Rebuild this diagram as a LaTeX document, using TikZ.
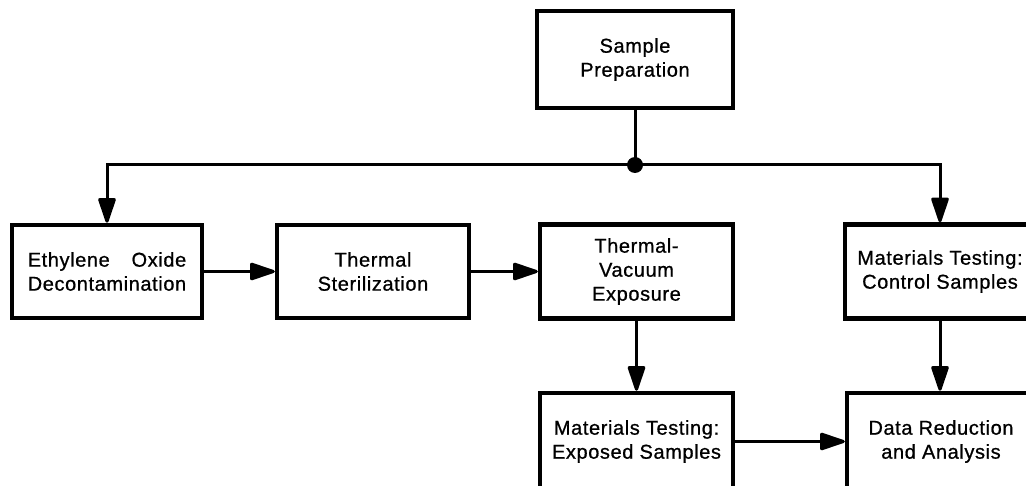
\documentclass[tikz,border=0pt]{standalone}
\usepackage{fontspec}
\usepackage{calc}
\setmainfont{Liberation Sans}[FakeBold=0.8,LetterSpace=3]
\usetikzlibrary{arrows.meta}
\tikzset{
  box/.style={draw=black, line width=4.5pt, fill=white, align=center,
    inner sep=0pt, font=\fontsize{20}{24}\selectfont},
  conn/.style={draw=black, line width=3pt},
  tip/.style={-{Triangle[length=28pt,width=18pt,round]}}
}
\begin{document}
\begin{tikzpicture}[x=1pt,y=-1pt]
\useasboundingbox (0,0) rectangle (1026,486);
\clip (0,0) rectangle (1026,486);
\node[box, minimum width=196pt, minimum height=97pt] (prep) at (635,59.5) {Sample\\Preparation};
\node[box, minimum width=190pt, minimum height=93pt] (eth) at (107,271.5)
  {\makebox[\widthof{Decontamination}][s]{Ethylene Oxide}\\Decontamination};
\node[box, minimum width=192pt, minimum height=93pt] (ster) at (373,271.5) {Thermal\\Sterilization};
\node[box, minimum width=193pt, minimum height=94pt] (tv) at (636.5,271.5) {Thermal-\\Vacuum\\Exposure};
\node[box, minimum width=190pt, minimum height=94pt] (ctrl) at (940,271.5) {Materials Testing:\\Control Samples};
\node[box, minimum width=193pt, minimum height=97pt] (exp) at (636.5,441.5) {Materials Testing:\\Exposed Samples};
\node[box, minimum width=188pt, minimum height=97pt] (data) at (941,441.5) {Data Reduction\\and Analysis};
\node[circle, fill=black, inner sep=0pt, minimum size=16pt] (j) at (635,165) {};
\draw[conn] (prep.south) -- (j.center);
\draw[conn, tip] (j.center) -| (eth.north);
\draw[conn, tip] (j.center) -| (ctrl.north);
\draw[conn, tip] (eth.east) -- (ster.west);
\draw[conn, tip] (ster.east) -- (tv.west);
\draw[conn, tip] (tv.south) -- (exp.north);
\draw[conn, tip] (ctrl.south) -- (ctrl.south |- data.north);
\draw[conn, tip] (exp.east) -- (exp.east -| data.west);
\end{tikzpicture}
\end{document}
